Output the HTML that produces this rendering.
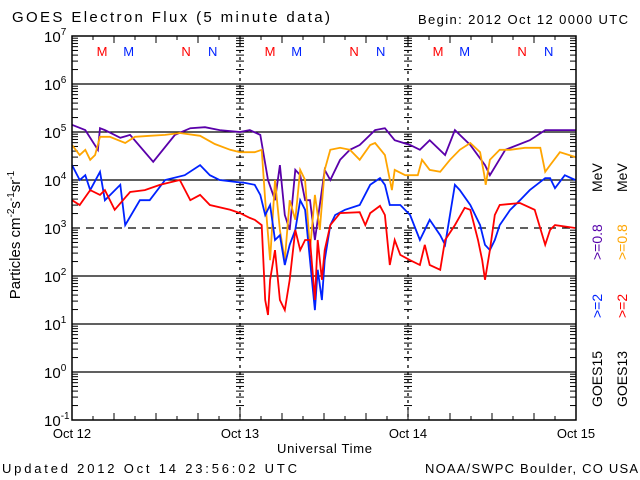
<!DOCTYPE html>
<html><head><meta charset="utf-8"><style>
html,body{margin:0;padding:0;background:#fff}
svg{display:block;font-family:"Liberation Sans",sans-serif}
</style></head><body>
<svg id="c" width="640" height="480" viewBox="0 0 640 480">
<text x="12" y="22" font-size="15" textLength="318" lengthAdjust="spacing">GOES Electron Flux (5 minute data)</text>
<text x="418" y="24" font-size="13" textLength="210" lengthAdjust="spacing">Begin: 2012 Oct 12 0000 UTC</text>
<g id="grid"></g>
<g id="yticks"></g>
<g id="xticks"></g>
<g id="series"></g>
<g id="markers"></g>
<rect x="72" y="36" width="504" height="384" fill="none" stroke="#000" stroke-width="1.5"/>
<text transform="translate(20,235) rotate(-90)" font-size="15" text-anchor="middle">Particles cm<tspan dy="-6" font-size="10">-2</tspan><tspan dy="6">s</tspan><tspan dy="-6" font-size="10">-1</tspan><tspan dy="6">sr</tspan><tspan dy="-6" font-size="10">-1</tspan></text>
<text x="277" y="453" font-size="13" textLength="95" lengthAdjust="spacing">Universal Time</text>
<text x="2" y="473" font-size="13" textLength="295" lengthAdjust="spacing">Updated 2012 Oct 14 23:56:02 UTC</text>
<text x="425" y="473" font-size="13" textLength="213" lengthAdjust="spacing">NOAA/SWPC Boulder, CO USA</text>
<g font-size="14">
<text transform="translate(602,407) rotate(-90)">GOES15</text>
<text transform="translate(602,318) rotate(-90)" fill="#0022ff">&gt;=2</text>
<text transform="translate(602,260) rotate(-90)" fill="#5500aa">&gt;=0.8</text>
<text transform="translate(602,192) rotate(-90)">MeV</text>
<text transform="translate(627,407) rotate(-90)">GOES13</text>
<text transform="translate(627,318) rotate(-90)" fill="#ff0000">&gt;=2</text>
<text transform="translate(627,260) rotate(-90)" fill="#ffa500">&gt;=0.8</text>
<text transform="translate(627,192) rotate(-90)">MeV</text>
</g>
</svg>
<script>
const dayLabels=["Oct 12","Oct 13","Oct 14","Oct 15"];
const decadeExps=[-1,0,1,2,3,4,5,6,7];
const purpleH=[0,1.9,3.7,4,4.7,6.9,8.3,11.6,14.7,16.9,19,21.1,24,25.4,26.9,28,29,29.7,30.4,31.1,31.9,32.6,33.3,34,34.7,36.1,36.9,38.3,39.7,41.1,43.3,44.7,46.1,48.3,49.7,51.1,53.3,54.7,56.9,59,59.7,61.9,65.4,67.6,72];
const purpleLog=[5.15,5.04,4.63,5.08,5.04,4.88,4.94,4.38,4.94,5.08,5.10,5.04,5.0,5.04,4.94,4.0,3.58,4.31,3.27,2.96,4.21,4.10,3.58,3.58,2.75,4.21,4.0,4.42,4.63,4.73,5.04,5.08,4.83,4.73,4.63,4.83,4.52,5.04,4.73,4.31,4.10,4.63,4.83,5.04,5.04];
const orangeH=[0,1.1,1.9,2.6,3.3,4,5.4,7.6,9,11.1,13.3,15.4,18.3,20.4,22.6,24,26.1,27.1,27.6,28.3,29,29.7,30.4,31.1,31.9,32.6,33.3,34,34.7,35.4,36.1,36.9,38.3,39.7,41.1,42.6,43.3,44.7,45.7,46.1,47.6,48.3,49.4,50,51.1,52.6,54,55.4,56.9,58.3,58.9,59.1,59.7,61.1,62.6,64.7,66.9,67.6,68.3,69.7,71.9];
const orangeLog=[4.73,4.52,4.63,4.42,4.52,4.90,4.90,4.77,4.90,4.92,4.94,4.98,4.92,4.75,4.63,4.58,4.58,4.63,3.58,2.33,4.0,2.96,2.33,3.58,3.17,4.21,4.0,2.54,3.69,2.96,4.21,4.63,4.67,4.63,4.42,4.73,4.77,4.52,3.79,4.21,4.10,4.10,4.10,4.42,4.21,4.17,4.42,4.63,4.77,4.58,4.10,3.90,4.42,4.63,4.63,4.67,4.67,4.17,4.31,4.58,4.48];
const blueH=[0,1.1,1.9,2.6,4,4.7,6.9,7.6,9.7,11.1,13.3,16.1,18.3,19.7,21.1,23.3,24.7,26.1,26.9,27.6,28.3,29,29.7,30.4,31.1,31.9,32.6,33.3,34,34.7,35.1,35.7,36.1,36.9,37.6,39,41.1,42.6,44,44.7,45.4,46.9,48.3,49.7,51.1,52.6,53.3,54.7,55.4,56.9,58.3,59,59.7,60.4,61.1,62.6,64,65.4,67.6,68.3,69,70.4,71.9];
const blueLog=[4.31,4.0,4.10,3.79,4.17,3.58,3.90,3.06,3.58,3.58,4.0,4.10,4.31,4.10,4.0,3.96,3.94,3.90,3.69,3.27,3.48,2.75,2.85,2.23,2.65,2.96,3.58,3.38,2.33,1.29,2.13,1.5,2.33,3.06,3.27,3.38,3.48,3.90,4.04,3.90,3.48,3.48,3.27,2.75,3.17,2.85,2.65,3.90,3.79,3.48,3.06,2.65,2.54,2.75,3.06,3.38,3.58,3.79,4.04,4.04,3.83,4.10,4.0];
const redH=[0,1.1,2.6,4,4.7,6.1,8.3,10.4,12.6,15.4,16.9,18.3,19.7,22.6,24,25.4,26.1,27.1,27.6,28,28.3,29,29.7,30.4,31.1,31.9,32.6,33.3,34,34.7,35.1,35.7,36.1,36.9,38.3,41.1,41.9,42.6,44,44.7,45.4,46.1,46.9,48.3,49.7,50.4,51.1,52.6,53.3,54.7,56.1,56.9,58,58.6,59,59.7,60.4,61.1,64,66.1,67.6,68.3,69,71.9];
const redLog=[3.58,3.48,3.79,3.69,3.79,3.38,3.75,3.79,3.90,4.0,3.58,3.69,3.48,3.38,3.31,3.21,3.17,3.06,1.5,1.19,1.92,2.54,1.5,1.29,1.92,2.96,2.54,2.75,2.75,1.5,2.75,1.92,2.54,3.06,3.31,3.33,3.06,3.31,3.46,3.27,2.23,2.75,2.44,2.33,2.23,2.65,2.23,2.13,2.75,3.06,3.42,3.38,2.75,2.33,1.92,2.54,3.27,3.48,3.52,3.38,2.65,2.96,3.06,3.0];
const markerLetters=["M","M","N","N"];
const markerHours=[4.3,8.1,16.3,20.1];

const NS="http://www.w3.org/2000/svg";
const X0=72,X1=576,Y0=420,Y1=36,LMIN=-1,LMAX=7,HMAX=72;
function xs(h){return X0+(h/HMAX)*(X1-X0);}
function ys(l){return Y0-(l-LMIN)/(LMAX-LMIN)*(Y0-Y1);}
function mk(tag,attrs,parent){const e=document.createElementNS(NS,tag);for(const k in attrs)e.setAttribute(k,attrs[k]);parent.appendChild(e);return e;}
const grid=document.getElementById('grid'),yt=document.getElementById('yticks'),xt=document.getElementById('xticks'),sg=document.getElementById('series'),mg=document.getElementById('markers');

decadeExps.forEach(e=>{
  const y=ys(e);
  if(e>LMIN&&e<LMAX){
    const ln=mk('line',{x1:X0,x2:X1,y1:y,y2:y,stroke:'#000','stroke-width':1.3},grid);
    if(e===3)ln.setAttribute('stroke-dasharray','8,6');
    
    
  }
  const t=mk('text',{x:44,y:y+6,'font-size':15},yt);
  t.textContent='10';
  const s=mk('tspan',{dy:-7,'font-size':10},t);s.textContent=String(e);
  
  
  if(e<LMAX){
    for(let m=2;m<=9;m++){
      const yy=ys(e+Math.log10(m));
      [X0,X1-6].forEach(xx=>{
        const tk=mk('line',{x1:xx,x2:xx+6,y1:yy,y2:yy,stroke:'#000','stroke-width':1},yt);
        
        
      });
      [24,48].forEach(h=>{
        const xx=xs(h);
        const tk=mk('line',{x1:xx-4,x2:xx+4,y1:yy,y2:yy,stroke:'#000','stroke-width':1},yt);
        
        
      });
    }
  }
});
[24,48].forEach(h=>{
  const xx=xs(h);
  const d=mk('line',{x1:xx,x2:xx,y1:Y1,y2:Y0,stroke:'#000','stroke-width':1.3,'stroke-dasharray':'3,4'},grid);
  
  
});
dayLabels.forEach((lab,i)=>{
  const x=xs(i*24);
  const t=mk('text',{x:x,y:438,'font-size':13,'text-anchor':'middle'},xt);
  t.textContent=lab;
  
  
});
for(let h=0;h<=HMAX;h+=3){
  const x=xs(h);const len=(h%24===0)?10:(h%6===0?7:4);
  const tk=mk('line',{x1:x,x2:x,y1:Y0,y2:Y0-len,stroke:'#000','stroke-width':1},xt);
  
  
  const tk2=mk('line',{x1:x,x2:x,y1:Y1,y2:Y1+len,stroke:'#000','stroke-width':1},xt);
  
  
}
function drawSeries(H,L,color,name){
  const n=Math.min(H.length,L.length);let pts=[];
  for(let i=0;i<n;i++)pts.push(xs(H[i]).toFixed(1)+','+ys(L[i]).toFixed(1));
  const p=mk('polyline',{points:pts.join(' '),fill:'none',stroke:color,'stroke-width':1.8,'stroke-linejoin':'miter'},sg);
  
  
}
drawSeries(purpleH,purpleLog,'#5a00aa','series-goes15-0.8mev');
drawSeries(orangeH,orangeLog,'#ffa500','series-goes13-0.8mev');
drawSeries(blueH,blueLog,'#0022ff','series-goes15-2mev');
drawSeries(redH,redLog,'#ff0000','series-goes13-2mev');
const mcol=['#ff0000','#0022ff','#ff0000','#0022ff'];
for(let d=0;d<3;d++){
  markerLetters.forEach((L,i)=>{
    const t=mk('text',{x:xs(d*24+markerHours[i]),y:56,'font-size':13,'text-anchor':'middle',fill:mcol[i]},mg);
    t.textContent=L;
    
    
  });
}
</script>
</body></html>
